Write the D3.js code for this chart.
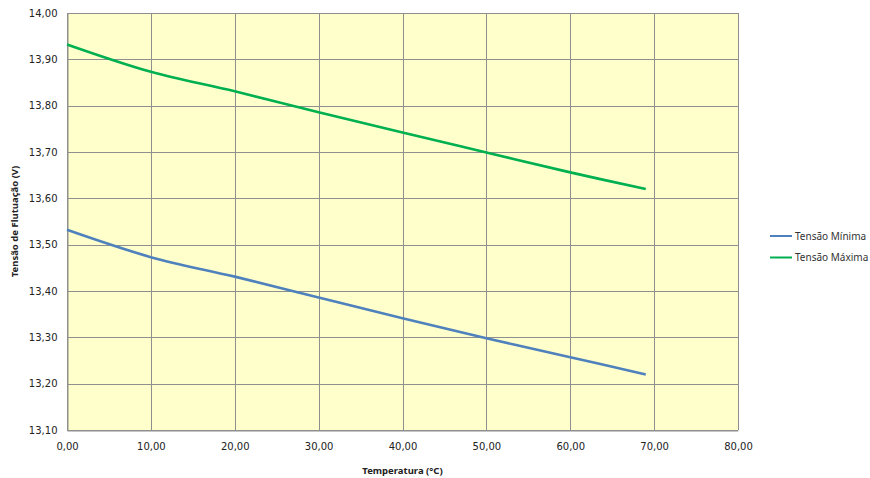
<!DOCTYPE html>
<html>
<head>
<meta charset="utf-8">
<script src="https://cdn.jsdelivr.net/npm/d3@7"></script>
<style>
  body { margin: 0; background: #fff; }
  svg { display: block; }
</style>
</head>
<body>
<svg id="chart" width="870" height="478"></svg>
<script>
// Temperature (°C) and float voltage (V)
const temperatures = [0, 10, 20, 30, 40, 50, 60, 69];
const tensaoMinima = [13.532, 13.473, 13.431, 13.386, 13.341, 13.298, 13.257, 13.220];
const tensaoMaxima = [13.932, 13.873, 13.831, 13.786, 13.742, 13.699, 13.656, 13.620];
const seriesNames = ["Tensão Mínima", "Tensão Máxima"];
const seriesColors = ["#4F81BD", "#00B050"];
const xTicks = [0, 10, 20, 30, 40, 50, 60, 70, 80];
const yTicks = [13.1, 13.2, 13.3, 13.4, 13.5, 13.6, 13.7, 13.8, 13.9, 14.0];

const svg = d3.select("#chart");
const plot = { left: 67, right: 738, top: 13, bottom: 430 };

const x = d3.scaleLinear().domain([0, 80]).range([plot.left, plot.right]);
const y = d3.scaleLinear().domain([13.1, 14.0]).range([plot.bottom, plot.top]);
const fmt = v => d3.format(".2f")(v).replace(".", ",");
const tickFont = "'DejaVu Sans', sans-serif";
const textFont = "'Noto Sans', sans-serif";

svg.append("rect")
  .attr("x", plot.left).attr("y", plot.top)
  .attr("width", plot.right - plot.left).attr("height", plot.bottom - plot.top)
  .attr("fill", "#FFFFCC");

// Grid
const grid = svg.append("g").attr("stroke", "#8f8f8f").attr("stroke-width", 1);
grid.selectAll("line.v").data(xTicks).join("line")
  .attr("x1", d => Math.round(x(d)) + 0.5).attr("x2", d => Math.round(x(d)) + 0.5)
  .attr("y1", plot.top).attr("y2", plot.bottom);
grid.selectAll("line.h").data(yTicks).join("line")
  .attr("y1", d => Math.round(y(d)) + 0.5).attr("y2", d => Math.round(y(d)) + 0.5)
  .attr("x1", plot.left).attr("x2", plot.right);

// Axes
const xAxis = svg.append("g")
  .attr("transform", `translate(0,${plot.bottom + 0.5})`)
  .call(d3.axisBottom(x).tickValues(xTicks).tickFormat(fmt).tickSize(0).tickPadding(12));
const yAxis = svg.append("g")
  .attr("transform", `translate(${plot.left + 0.5},0)`)
  .call(d3.axisLeft(y).tickValues(yTicks).tickFormat(fmt).tickSize(0).tickPadding(10));
[xAxis, yAxis].forEach(a => {
  a.select(".domain").attr("stroke", "#8f8f8f");
  a.selectAll("text").attr("font-family", tickFont).attr("font-size", 10).attr("fill", "#222");
});

// Axis titles
svg.append("text")
  .attr("x", (plot.left + plot.right) / 2).attr("y", 474)
  .attr("text-anchor", "middle")
  .attr("font-family", textFont).attr("font-size", 9.5).attr("font-weight", "bold").attr("fill", "#222")
  .text("Temperatura (°C)");
svg.append("text")
  .attr("transform", `translate(18,${(plot.top + plot.bottom) / 2}) rotate(-90)`)
  .attr("text-anchor", "middle")
  .attr("font-family", textFont).attr("font-size", 9.5).attr("font-weight", "bold").attr("fill", "#222")
  .text("Tensão de Flutuação  (V)");

// Lines
const line = d3.line()
  .x((d, i) => x(temperatures[i]))
  .y(d => y(d))
  .curve(d3.curveCatmullRom.alpha(0.5));
[tensaoMinima, tensaoMaxima].forEach((s, k) => {
  svg.append("path")
    .attr("d", line(s))
    .attr("fill", "none")
    .attr("stroke", seriesColors[k])
    .attr("stroke-width", 2.6)
    .attr("stroke-linejoin", "round");
});

// Legend
const legend = svg.append("g");
seriesNames.forEach((name, k) => {
  const ly = 236 + k * 21.5;
  legend.append("line")
    .attr("x1", 770).attr("x2", 792).attr("y1", ly).attr("y2", ly)
    .attr("stroke", seriesColors[k]).attr("stroke-width", 2);
  legend.append("text")
    .attr("x", 795).attr("y", ly + 3.5)
    .attr("font-family", textFont).attr("font-size", 10).attr("fill", "#333")
    .text(name);
});
</script>
</body>
</html>
